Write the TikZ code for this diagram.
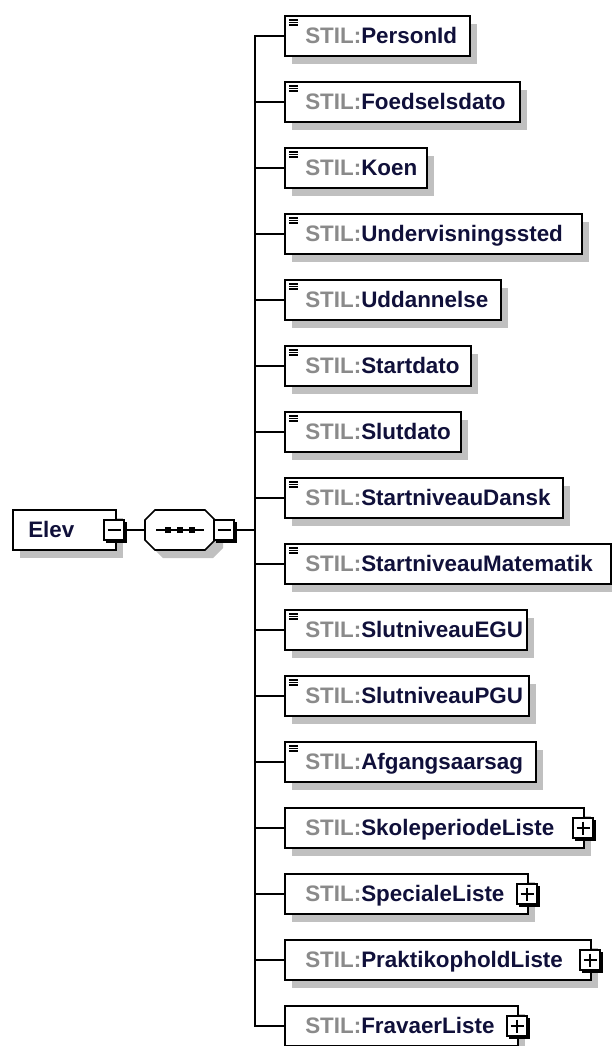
\documentclass[tikz,border=0pt]{standalone}
\usepackage{fontspec}
\setmainfont{Liberation Sans}
\usetikzlibrary{calc}
\definecolor{stilgray}{HTML}{8A8A8A}
\definecolor{namecol}{HTML}{10103A}
\definecolor{shadowgray}{HTML}{C0C0C0}
\tikzset{
  elembox/.style={draw=black, line width=1.5pt, fill=white, minimum height=30pt, inner sep=0pt, anchor=west},
  lbl/.style={anchor=base west, inner sep=0pt, font=\fontsize{16.8}{20}\selectfont\bfseries},
  conn/.style={line width=1.4pt, draw=black},
  btn/.style={draw=black, fill=white, line width=1pt, minimum width=15pt, minimum height=15pt, inner sep=0pt},
  iconline/.style={line width=1.1pt},
}
\newcommand\mybtn[4]{%
  \fill[black] (#2-8,#3-8) rectangle (#2+12.5,#3+12.5);
  \node[btn] (#1) at (#2,#3) {};
  \draw[line width=1.3pt] ($(#1.center)+(-6.5,0)$) -- ($(#1.center)+(6.5,0)$);
  \ifx p#4\draw[line width=1.3pt] ($(#1.center)+(0,-6.5)$) -- ($(#1.center)+(0,6.5)$);\fi
}
\begin{document}
\begin{tikzpicture}[x=0.75pt,y=-0.75pt]
\useasboundingbox (0,0) rectangle (611,1046);
\coordinate (tr) at (255,530);
% shadows
\fill[shadowgray] (20,518) rectangle (123,558);
\fill[shadowgray] (163,518) -- (213,518) -- (223,528) -- (223,548) -- (213,558) -- (163,558) -- (153,548) -- (153,528) -- cycle;
% element rows
\foreach \i/\r/\nm in {0/469/PersonId,1/519/Foedselsdato,2/426/Koen,3/581/Undervisningssted,4/500/Uddannelse,5/470/Startdato,6/460/Slutdato,7/562/StartniveauDansk,8/610/StartniveauMatematik,9/526/SlutniveauEGU,10/528/SlutniveauPGU,11/535/Afgangsaarsag,12/583/SkoleperiodeListe,13/527/SpecialeListe,14/590/PraktikopholdListe,15/517/FravaerListe}{
  \pgfmathsetmacro\cy{36+66*\i}
  \pgfmathsetmacro\w{(\r-284)*0.75}
  \fill[shadowgray] (292,\cy-12) rectangle (\r+8,\cy+28);
  \draw[conn] (284,\cy) -| (tr);
  \node[elembox, minimum width=\w pt] (r\i) at (284,\cy) {};
  \node[lbl] (t\i) at (305,\cy+7.5) {\textcolor{stilgray}{STIL:}\textcolor{namecol}{\nm}};
}
% element icons
\foreach \i in {0,...,11}{
  \pgfmathsetmacro\tp{16+66*\i}
  \draw[iconline] (289,\tp+4) -- (297.5,\tp+4) (289,\tp+6.6) -- (297.5,\tp+6.6) (289,\tp+9.2) -- (297.5,\tp+9.2);
}
% list expand buttons
\foreach \i/\r in {12/583,13/527,14/590,15/517}{
  \pgfmathsetmacro\cy{36+66*\i}
  \mybtn{pb\i}{\r}{\cy}{p}
}
% Elev
\node[elembox, minimum width=77.25pt] (elev) at (12,530) {};
\node[lbl] (elevt) at (28,537.5) {\textcolor{namecol}{Elev}};
% sequence compositor
\node[inner sep=0pt, minimum width=52.5pt, minimum height=30pt] (seq) at (180,530) {};
\draw[conn] (seq.west) ++(-20,0) -- (seq.west);
\draw[line width=1.2pt, fill=white] (155,510) -- (205,510) -- (215,520) -- (215,540) -- (205,550) -- (155,550) -- (145,540) -- (145,520) -- cycle;
\draw[line width=1.2pt] (156,530) -- (204,530);
\foreach \sx in {168,180,192}{\fill (\sx-3,527) rectangle (\sx+3,533);}
\draw[conn] (223,530) -- (tr);
\mybtn{eb}{114}{530}{m}
\mybtn{sb}{224}{530}{m}
\draw[conn] (eb.east) ++(3,0) -- (seq.west);
\end{tikzpicture}
\end{document}
